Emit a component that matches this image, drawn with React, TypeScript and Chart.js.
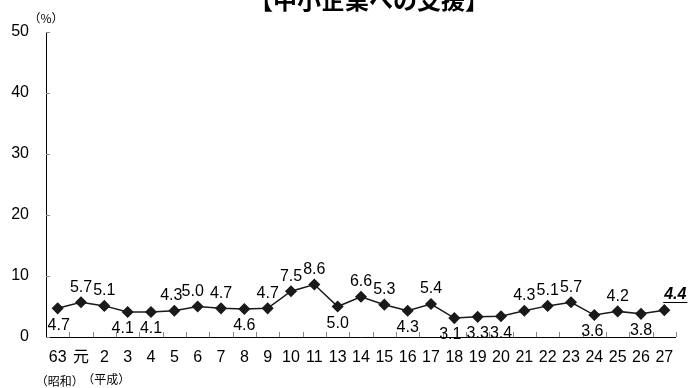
import React, { useEffect, useRef } from "react";
import { Chart, registerables } from "chart.js";

Chart.register(...registerables);

const categories = ["63", "元", "2", "3", "4", "5", "6", "7", "8", "9", "10", "11", "13", "14", "15", "16", "17", "18", "19", "20", "21", "22", "23", "24", "25", "26", "27"];
const values = [4.7, 5.7, 5.1, 4.1, 4.1, 4.3, 5.0, 4.7, 4.6, 4.7, 7.5, 8.6, 5.0, 6.6, 5.3, 4.3, 5.4, 3.1, 3.3, 3.4, 4.3, 5.1, 5.7, 3.6, 4.2, 3.8, 4.4];
const labelSide = ["b", "a", "a", "b", "b", "a", "a", "a", "b", "a", "a", "a", "b", "a", "a", "b", "a", "b", "b", "b", "a", "a", "a", "b", "a", "b", "l"];
const labelShift = [1, 0, 0, -5, 0, -3, -5, 0, 0, 0, 0, 0, 0, 0, 0, 0, 0, -4, 0, 0, 0, 0, 0, -2, 0, 0, 11];
const yTicks = [0, 10, 20, 30, 40, 50];
const titleText = "【中小企業への支援】";
const unitText = "（%）";
const eraLabels = ["（昭和）", "（平成）"];

const NUM_FONT = "'Liberation Sans', Arial, sans-serif";
const JP_FONT = "'Noto Sans CJK JP', sans-serif";

const decorPlugin = {
  id: "decor",
  afterDraw(chart: any) {
    const ctx = chart.ctx;
    const xs = chart.scales.x;
    const ys = chart.scales.y;
    const area = chart.chartArea;
    const step = xs.getPixelForValue(1) - xs.getPixelForValue(0);
    ctx.save();
    // axes
    ctx.strokeStyle = "#000";
    ctx.lineWidth = 1;
    ctx.beginPath();
    ctx.moveTo(Math.round(area.left) + 0.5, area.top);
    ctx.lineTo(Math.round(area.left) + 0.5, Math.round(area.bottom) + 0.5);
    ctx.lineTo(area.right, Math.round(area.bottom) + 0.5);
    ctx.stroke();
    // y tick marks
    ctx.strokeStyle = "#888";
    ctx.beginPath();
    yTicks.forEach((t) => {
      const y = Math.round(ys.getPixelForValue(t)) + 0.5;
      ctx.moveTo(area.left, y);
      ctx.lineTo(area.left + 4, y);
    });
    // x tick marks between categories
    for (let i = 1; i <= categories.length; i++) {
      const x = Math.round(xs.getPixelForValue(i - 1) + step / 2) + 0.5;
      ctx.moveTo(x, area.bottom);
      ctx.lineTo(x, area.bottom - 5);
    }
    ctx.stroke();

    // title
    ctx.fillStyle = "#000";
    ctx.font = `bold 24px ${JP_FONT}`;
    ctx.textAlign = "center";
    ctx.textBaseline = "middle";
    ctx.fillText(titleText, 369, 0);

    // unit
    ctx.font = `12px ${JP_FONT}`;
    ctx.fillText(unitText, 46, 18);

    // era labels
    ctx.font = `12px ${JP_FONT}`;
    ctx.fillText(eraLabels[0], xs.getPixelForValue(0) + 2, 381);
    ctx.fillText(eraLabels[1], xs.getPixelForValue(2) + 2, 379);

    // data labels
    ctx.font = `16px ${NUM_FONT}`;
    values.forEach((v, i) => {
      const x = xs.getPixelForValue(i) + labelShift[i];
      const y = ys.getPixelForValue(v);
      const txt = v.toFixed(1);
      const side = labelSide[i];
      if (side === "a") {
        ctx.fillText(txt, x, y - 15);
      } else if (side === "b") {
        ctx.fillText(txt, x, y + 17);
      } else {
        ctx.font = `italic bold 16px ${NUM_FONT}`;
        const ly = y - 16;
        ctx.fillText(txt, x, ly);
        const w = ctx.measureText(txt).width;
        ctx.beginPath();
        ctx.strokeStyle = "#000";
        ctx.lineWidth = 1;
        ctx.moveTo(x - w / 2 - 1, Math.round(ly + 8) + 0.5);
        ctx.lineTo(x + w / 2 + 1, Math.round(ly + 8) + 0.5);
        ctx.stroke();
      }
    });
    ctx.restore();
  },
};

export default function App() {
  const ref = useRef<HTMLCanvasElement>(null);
  useEffect(() => {
    if (!ref.current) return;
    const chart = new Chart(ref.current, {
      type: "line",
      data: {
        labels: categories,
        datasets: [
          {
            data: values,
            borderColor: "#1a1a1a",
            backgroundColor: "#1a1a1a",
            borderWidth: 1.5,
            pointStyle: "rectRot",
            pointRadius: 5,
            pointBackgroundColor: "#1a1a1a",
            pointBorderColor: "#1a1a1a",
            tension: 0,
          },
        ],
      },
      options: {
        animation: false,
        responsive: false,
        devicePixelRatio: 1,
        layout: { padding: { left: 0, right: 12, top: 32, bottom: 0 } },
        plugins: { legend: { display: false }, tooltip: { enabled: false }, title: { display: false } },
        scales: {
          x: {
            offset: true,
            grid: { display: false, drawTicks: false },
            border: { display: false },
            ticks: {
              color: "#000",
              font: { size: 16, family: "'Liberation Sans', 'Noto Sans CJK JP', sans-serif" },
              padding: 11,
              maxRotation: 0,
              autoSkip: false,
            },
            afterFit(scale: any) {
              scale.height = 51;
            },
          },
          y: {
            min: 0,
            max: 50,
            grid: { display: false, drawTicks: false },
            border: { display: false },
            ticks: {
              stepSize: 10,
              color: "#000",
              font: { size: 16, family: NUM_FONT },
              padding: 17,
            },
            afterFit(scale: any) {
              scale.width = 46;
            },
          },
        },
      },
      plugins: [decorPlugin],
    });
    return () => chart.destroy();
  }, []);
  return (
    <div style={{ position: "fixed", left: 0, top: 0, width: 688, height: 388, background: "#fff" }}>
      <canvas ref={ref} width={688} height={388} style={{ display: "block" }} />
    </div>
  );
}
